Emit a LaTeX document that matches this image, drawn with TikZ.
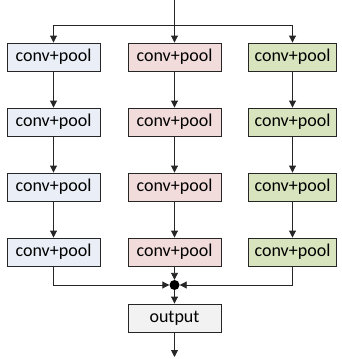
\documentclass[tikz,border=0pt]{standalone}
\usepackage{fontspec}
\setmainfont{Carlito}
\usetikzlibrary{arrows.meta}
\definecolor{cblue}{HTML}{EAEFF7}
\definecolor{cpink}{HTML}{F2DCDB}
\definecolor{cgreen}{HTML}{D7E4BD}
\definecolor{cgray}{HTML}{F2F2F2}
\definecolor{cline}{HTML}{262626}
\begin{document}
\begin{tikzpicture}[x=1pt,y=-1pt,
  box/.style={draw=cline,line width=0.9pt,minimum width=93pt,minimum height=28pt,inner sep=0pt,font=\fontsize{18}{20}\selectfont},
  narrowbox/.style={box,minimum width=88pt},
  arr/.style={draw=cline,line width=0.9pt,-{Triangle[width=7pt,length=7pt]}}]
\useasboundingbox (0,0) rectangle (342,359);
% left column
\node[box,fill=cblue] (l1) at (53.5,57) {conv+pool};
\node[box,fill=cblue] (l2) at (53.5,122) {conv+pool};
\node[box,fill=cblue] (l3) at (53.5,187) {conv+pool};
\node[box,fill=cblue] (l4) at (53.5,252) {conv+pool};
% middle column
\node[box,fill=cpink] (p1) at (174.5,57) {conv+pool};
\node[box,fill=cpink] (p2) at (174.5,122) {conv+pool};
\node[box,fill=cpink] (p3) at (174.5,187) {conv+pool};
\node[box,fill=cpink] (p4) at (174.5,252) {conv+pool};
% right column
\node[narrowbox,fill=cgreen] (g1) at (292.5,57) {conv+pool};
\node[narrowbox,fill=cgreen] (g2) at (292.5,122) {conv+pool};
\node[narrowbox,fill=cgreen] (g3) at (292.5,187) {conv+pool};
\node[narrowbox,fill=cgreen] (g4) at (292.5,252) {conv+pool};
% junction and output
\node[circle,fill=black,inner sep=0pt,minimum size=10pt] (j) at (174.5,285) {};
\node[box,fill=cgray] (out) at (174.5,318) {output};
\coordinate (top) at (174.5,0);
\coordinate (split) at (174.5,25);
\coordinate (end) at (174.5,357);
% connectors
\draw[arr] (top) -- (p1.north);
\draw[arr] (split) -| (l1.north);
\draw[arr] (split) -| (g1.north);
\draw[arr] (l1) -- (l2);
\draw[arr] (l2) -- (l3);
\draw[arr] (l3) -- (l4);
\draw[arr] (p1) -- (p2);
\draw[arr] (p2) -- (p3);
\draw[arr] (p3) -- (p4);
\draw[arr] (g1) -- (g2);
\draw[arr] (g2) -- (g3);
\draw[arr] (g3) -- (g4);
\draw[arr] (l4.south) |- (j.west);
\draw[arr] (g4.south) |- (j.east);
\draw[arr] (p4) -- (j);
\draw[arr] (j) -- (out);
\draw[arr] (out) -- (end);
\end{tikzpicture}
\end{document}
